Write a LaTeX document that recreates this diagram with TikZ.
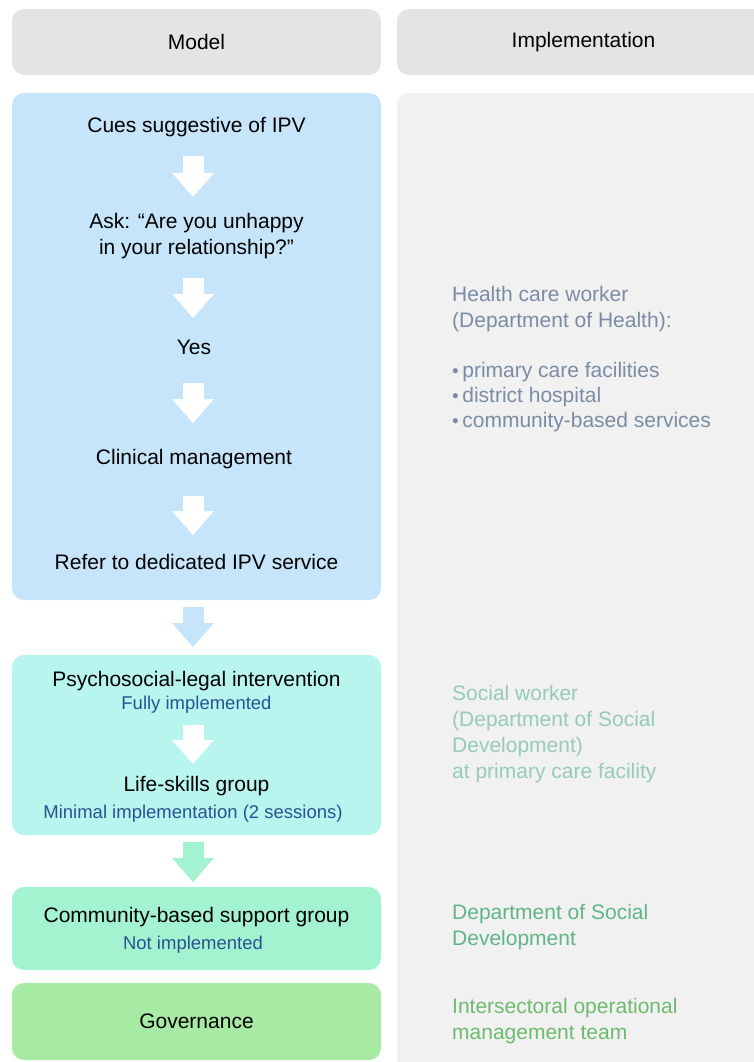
\documentclass[tikz,border=0pt]{standalone}
\usepackage{fontspec}
\setmainfont{Liberation Sans}
\usetikzlibrary{arrows.meta}

\definecolor{headgray}{RGB}{228,228,228}
\definecolor{implgray}{RGB}{241,241,241}
\definecolor{hcwblue}{RGB}{198,229,251}
\definecolor{pslcyan}{RGB}{183,245,238}
\definecolor{cbsgreen}{RGB}{163,243,208}
\definecolor{govgreen}{RGB}{167,234,163}
\definecolor{statusblue}{RGB}{42,82,146}
\definecolor{hcwtext}{RGB}{122,140,165}
\definecolor{swtext}{RGB}{150,202,187}
\definecolor{dsdtext}{RGB}{96,181,136}
\definecolor{iomtext}{RGB}{110,186,110}

\newcommand{\implbullet}{{\fontsize{19}{19}\selectfont\textbullet}\,}

\tikzset{panel/.style={rounded corners=12pt,inner sep=0pt,font=\fontsize{21}{26}\selectfont},
step text/.style={anchor=base,align=center,inner sep=0pt,font=\fontsize{21}{26}\selectfont},
status/.style={anchor=base,inner sep=0pt,text=statusblue,font=\fontsize{18.5}{22}\selectfont},
impl text/.style={anchor=base west,align=left,inner sep=0pt,font=\fontsize{21}{25.7}\selectfont},
flow/.style={line width=21pt,-{Triangle[length=24pt,width=42pt,line width=0pt]}}}

\begin{document}
\begin{tikzpicture}[x=1pt,y=-1pt]
\useasboundingbox (0,0) rectangle (753,1062);

%% column heads
\node [panel,fill=headgray,minimum width=369pt,minimum height=66pt] (modelhead) at (196.5,42) {Model};
\node [panel,fill=headgray,minimum width=373pt,minimum height=66pt] (implhead) at (583.5,42) {Implementation};

%% implementation background
\node [panel,fill=implgray,minimum width=373pt,minimum height=997pt] (implbg) at (583.5,591.5) {};

%% model stages
\node [panel,fill=hcwblue,minimum width=369pt,minimum height=507pt] (hcw) at (196.5,346.5) {};
\node [panel,fill=pslcyan,minimum width=369pt,minimum height=180pt] (psl) at (196.5,745) {};
\node [panel,fill=cbsgreen,minimum width=369pt,minimum height=83pt] (cbsg) at (196.5,928.5) {};
\node [panel,fill=govgreen,minimum width=369pt,minimum height=77pt] (gov) at (196.5,1021.5) {Governance};

%% step labels (multi-line nodes sit on their last baseline)
\node [step text] (cues) at (196.5,132) {Cues suggestive of IPV};
\node [step text] (ask) at (196.5,254) {Ask: “Are you unhappy\\in your relationship?”};
\node [step text] (yes) at (194,354) {Yes};
\node [step text] (clin) at (194,464) {Clinical management};
\node [step text] (refer) at (196.5,569) {Refer to dedicated IPV service};
\node [step text] (pslint) at (196.5,686) {Psychosocial-legal intervention};
\node [status] (pslstat) at (196.5,709.5) {Fully implemented};
\node [step text] (life) at (196.5,791) {Life-skills group};
\node [status] (lifestat) at (193,818.5) {Minimal implementation (2 sessions)};
\node [step text] (comm) at (196.5,922) {Community-based support group};
\node [status] (commstat) at (193,949.5) {Not implemented};

%% arrow ends
\coordinate (a1s) at (193,156);
\coordinate (a1e) at (193,197);
\coordinate (a2s) at (193,278);
\coordinate (a2e) at (193,318);
\coordinate (a3s) at (193,383);
\coordinate (a3e) at (193,423);
\coordinate (a4s) at (193,496);
\coordinate (a4e) at (193,535);
\coordinate (a5s) at (193,607);
\coordinate (a5e) at (193,647);
\coordinate (a6s) at (193,725);
\coordinate (a6e) at (193,764);
\coordinate (a7s) at (193,842);
\coordinate (a7e) at (193,882);

%% arrows
\draw [flow,white] (a1s) -- (a1e);
\draw [flow,white] (a2s) -- (a2e);
\draw [flow,white] (a3s) -- (a3e);
\draw [flow,white] (a4s) -- (a4e);
\draw [flow,hcwblue] (a5s) -- (a5e);
\draw [flow,white] (a6s) -- (a6e);
\draw [flow,cbsgreen] (a7s) -- (a7e);

%% implementation labels
\node [impl text,text=hcwtext] (hcwwho) at (452,327) {Health care worker\\(Department of Health):};
\node [impl text,text=hcwtext,font=\fontsize{21}{25}\selectfont] (hcwwhere) at (452,427) {\implbullet primary care facilities\\\implbullet district hospital\\\implbullet community-based services};
\node [impl text,text=swtext] (swwho) at (452,778) {Social worker\\(Department of Social\\Development)\\at primary care facility};
\node [impl text,text=dsdtext] (dsd) at (452,945) {Department of Social\\Development};
\node [impl text,text=iomtext] (iom) at (452,1039) {Intersectoral operational\\management team};

\end{tikzpicture}
\end{document}
